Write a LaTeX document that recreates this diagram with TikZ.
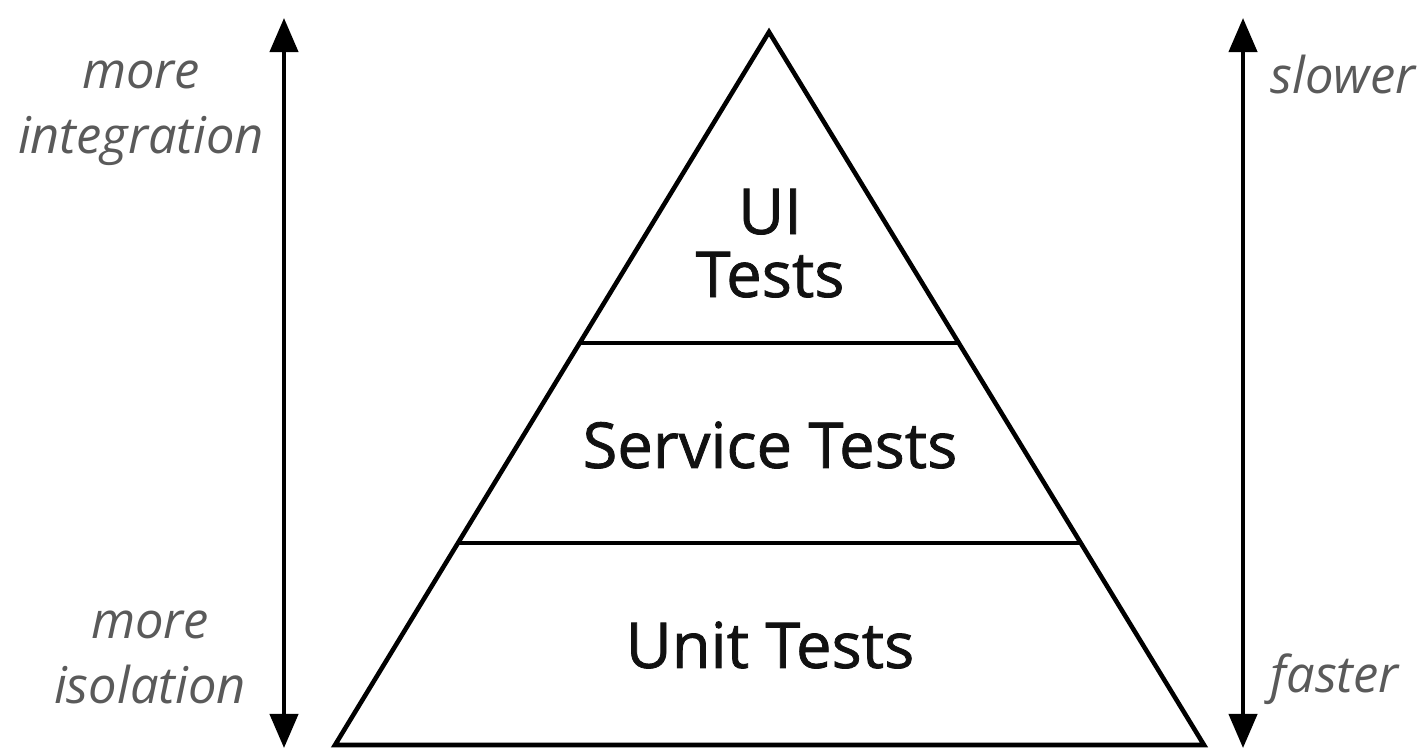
\documentclass[tikz,border=0pt]{standalone}
\usepackage{fontspec}
\setmainfont{Open Sans}
\newfontfamily\layerfont[FakeBold=1.2]{Open Sans}
\usetikzlibrary{arrows.meta}
\definecolor{lbl}{HTML}{5A5A5A}
\definecolor{ink}{HTML}{111111}
\tikzset{
  edge/.style={line width=1.3pt, draw=black, line join=miter},
  axis/.style={line width=1.2pt, draw=black, {Triangle[length=0.34cm,width=0.28cm]}-{Triangle[length=0.34cm,width=0.28cm]}},
  layer/.style={font=\layerfont\fontsize{18}{22}\selectfont, text=ink, align=center, inner sep=0pt},
  side/.style={font=\itshape\fontsize{14.4}{18.5}\selectfont, text=lbl, align=center, inner sep=0pt}
}
\begin{document}
\begin{tikzpicture}[x=0.01cm,y=-0.01cm]
\useasboundingbox (0,0) rectangle (1422,748);
% pyramid
\coordinate (apex) at (769,32);
\coordinate (bl) at (335,745);
\coordinate (br) at (1204,745);
\coordinate (l1) at (580,343);
\coordinate (r1) at (958,343);
\coordinate (l2) at (458,543);
\coordinate (r2) at (1080,543);
\draw[edge] (apex) -- (bl) -- (br) -- cycle;
\draw[edge] (l1) -- (r1);
\draw[edge] (l2) -- (r2);
% layer labels
\node[layer, anchor=base] (ui) at (770,234) {UI};
\node[layer, anchor=base] (uit) at (770,297) {Tests};
\node[layer] (svc) at (770,445) {Service Tests};
\node[layer] (unit) at (770,645) {Unit Tests};
% axes
\coordinate (lt) at (284,18);
\coordinate (lb) at (284,748);
\coordinate (rt) at (1243,18);
\coordinate (rb) at (1243,748);
\draw[axis] (lb) -- (lt);
\draw[axis] (rb) -- (rt);
% side labels
\node[side] (integ) at (141,113) {more\\integration};
\node[side] (isol) at (150,657) {more\\isolation};
\node[side, anchor=west] (slow) at (1270,75) {slower};
\node[side, anchor=west] (fast) at (1270,679) {faster};
\end{tikzpicture}
\end{document}
